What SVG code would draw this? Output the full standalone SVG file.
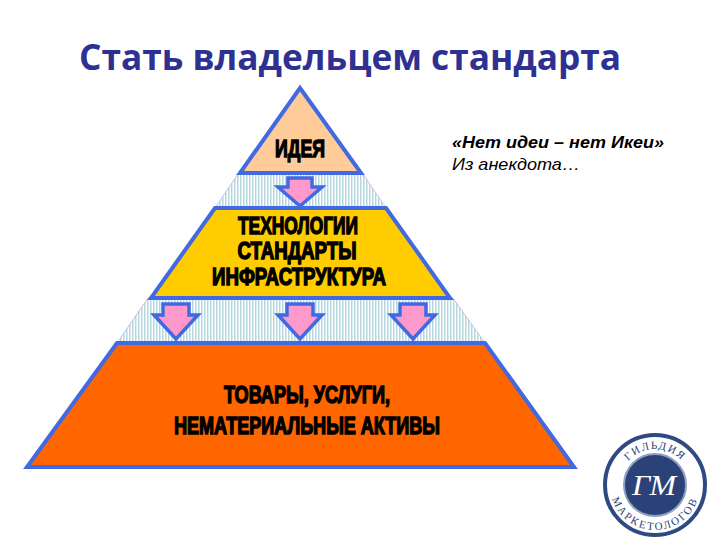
<svg xmlns="http://www.w3.org/2000/svg" width="720" height="540" viewBox="0 0 720 540">
<style>
.lb{font-family:"Liberation Sans",Arial,sans-serif;font-weight:700;font-size:24px;fill:#000;stroke:#000;stroke-width:1.4;text-anchor:middle}
.arrow{fill:#ff99cc;stroke:#4169e1;stroke-width:3.5;stroke-linejoin:miter}
.tier{stroke:#4169e1;stroke-width:4;stroke-linejoin:miter}
.gap{fill:url(#st);stroke:#b9a8d0;stroke-width:.7}
</style>
<defs>
<pattern id="st" width="3" height="4" patternUnits="userSpaceOnUse"><rect width="3" height="4" fill="#fff"/><rect width="1.5" height="4" fill="#b5d8e0"/></pattern>
<path id="ar1" d="M-12 0H12V9H22L0 28L-22 9H-12Z"/>
<path id="ar" d="M-13 0H13V11H22L0 35L-22 11H-13Z"/>
<path id="ringtop" d="M619 485A36 36 0 0 1 691 485"/>
<path id="ringbot" d="M610 485A45 45 0 0 0 700 485"/>
</defs>
<rect width="720" height="540" fill="#fff"/>
<text x="350" y="70" font-family="'Open Sans','DejaVu Sans',sans-serif" font-weight="700" font-size="36" fill="#2e3192" text-anchor="middle" textLength="542" lengthAdjust="spacingAndGlyphs">Стать владельцем стандарта</text>
<g id="connectors">
<polygon class="gap" points="238,174 363,174 386,208 215,208"/>
<polygon class="gap" points="148,298 453,298 485,343 117,343"/>
<use href="#ar1" class="arrow" x="300" y="178"/>
<use href="#ar" class="arrow" x="176" y="304"/>
<use href="#ar" class="arrow" x="300" y="304"/>
<use href="#ar" class="arrow" x="413" y="304"/>
</g>
<g id="node-idea">
<polygon class="tier" points="300,88 361,173 240,173" fill="#ffcc99"/>
<text class="lb" x="300" y="157" textLength="50" lengthAdjust="spacingAndGlyphs">ИДЕЯ</text>
</g>
<g id="node-tech">
<polygon class="tier" points="215,208 386,208 450,298 151,298" fill="#ffcc00"/>
<text class="lb" x="298" y="234" textLength="120" lengthAdjust="spacingAndGlyphs">ТЕХНОЛОГИИ</text>
<text class="lb" x="297" y="259" textLength="119" lengthAdjust="spacingAndGlyphs">СТАНДАРТЫ</text>
<text class="lb" x="299" y="285" textLength="174" lengthAdjust="spacingAndGlyphs">ИНФРАСТРУКТУРА</text>
</g>
<g id="node-goods">
<polygon class="tier" points="117,343 485,343 574,467 27,467" fill="#ff6600"/>
<text class="lb" x="307" y="403" textLength="166" lengthAdjust="spacingAndGlyphs">ТОВАРЫ, УСЛУГИ,</text>
<text class="lb" x="307" y="434" textLength="266" lengthAdjust="spacingAndGlyphs">НЕМАТЕРИАЛЬНЫЕ АКТИВЫ</text>
</g>
<g id="quote" font-family="'Liberation Sans',Arial,sans-serif" font-style="italic" font-size="16.5" fill="#000">
<text x="452" y="148" font-weight="700" textLength="212" lengthAdjust="spacingAndGlyphs">«Нет идеи – нет Икеи»</text>
<text x="452" y="170" textLength="128" lengthAdjust="spacingAndGlyphs">Из анекдота…</text>
</g>
<g id="logo">
<circle cx="655" cy="485" r="50" fill="#fff" stroke="#2f4a80" stroke-width="4"/>
<circle cx="655" cy="485" r="31" fill="#2b4278" stroke="#8fa0c0" stroke-width="2"/>
<text font-family="'Liberation Serif',serif" font-size="11" fill="#2b4278" letter-spacing="1.5" text-anchor="middle"><textPath href="#ringtop" startOffset="50%">ГИЛЬДИЯ</textPath></text>
<text font-family="'Liberation Serif',serif" font-size="11" fill="#2b4278" letter-spacing="2" text-anchor="middle"><textPath href="#ringbot" startOffset="50%">МАРКЕТОЛОГОВ</textPath></text>
<text x="654" y="495" font-family="'Liberation Serif',serif" font-style="italic" font-size="30" fill="#fff" text-anchor="middle" textLength="44" lengthAdjust="spacingAndGlyphs">ГМ</text>
</g>
</svg>
